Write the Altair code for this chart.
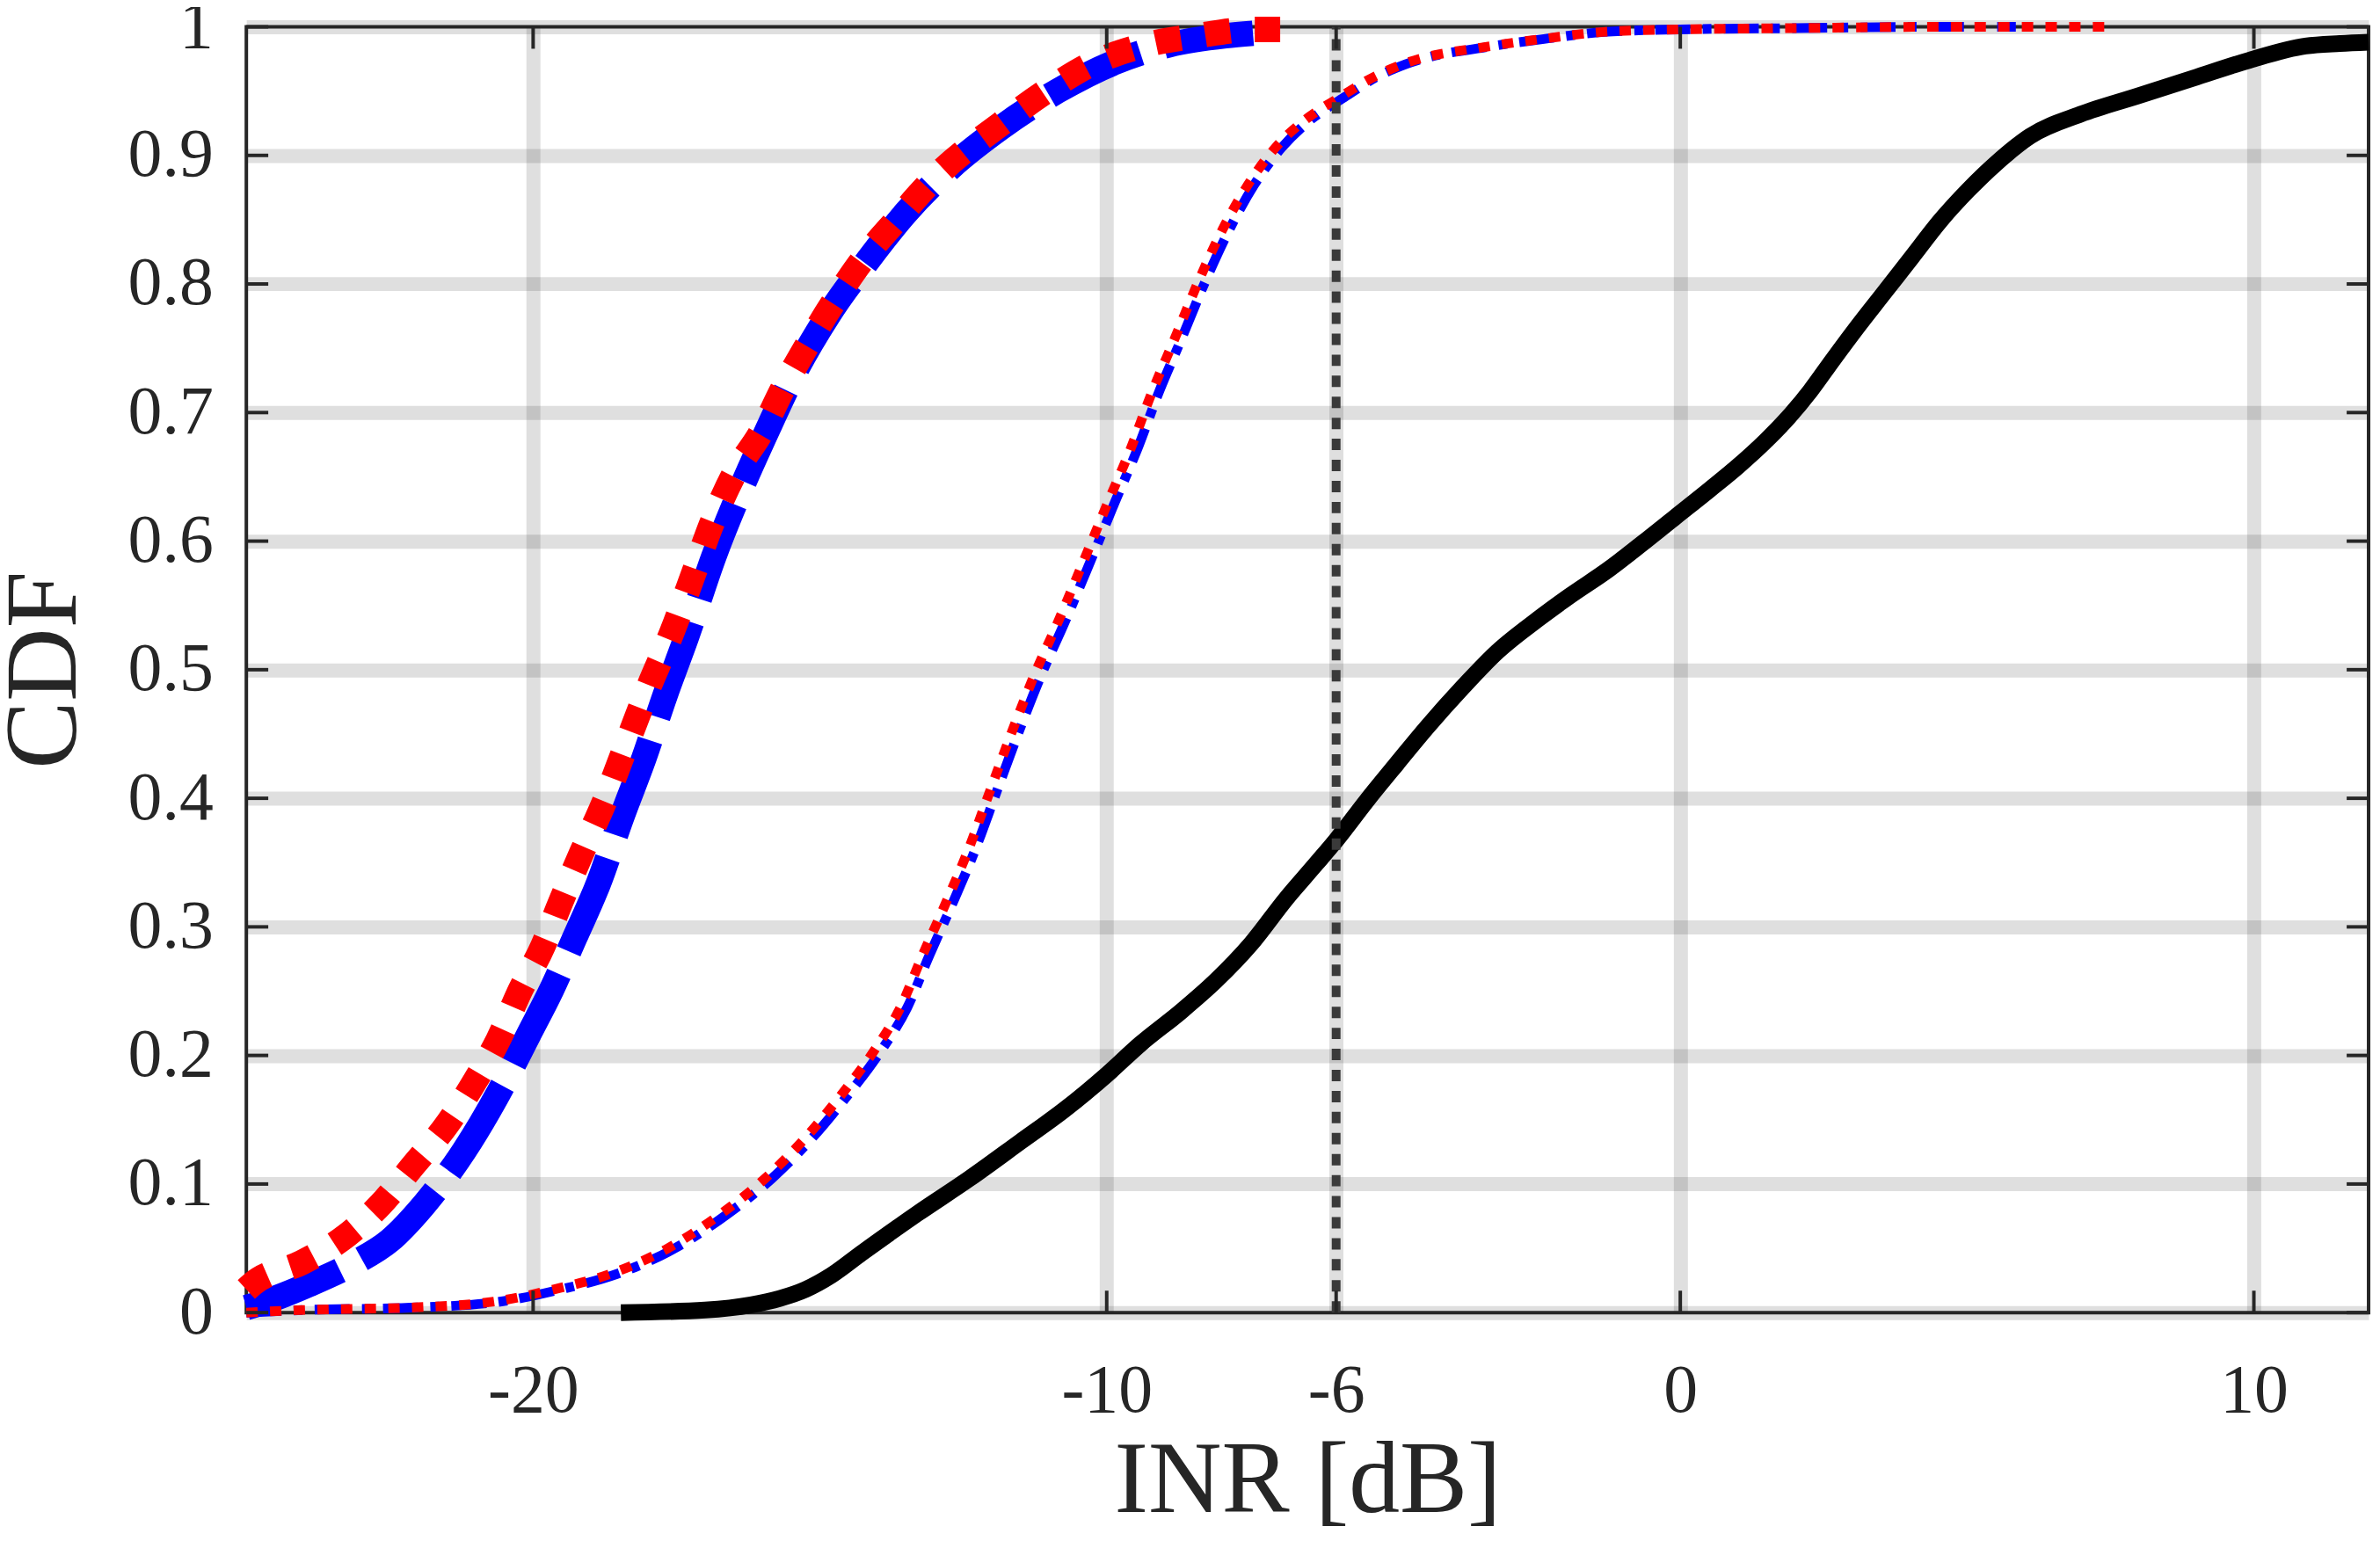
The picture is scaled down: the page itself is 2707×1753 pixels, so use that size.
import altair as alt
import pandas as pd

# ---------------- data ----------------
x_ticks = [-20, -10, -6, 0, 10]
y_ticks = [0, 0.1, 0.2, 0.3, 0.4, 0.5, 0.6, 0.7, 0.8, 0.9, 1]
threshold_db = [-6]

# thick blue dashed (left)
blue_thick_x = [-25, -24.7, -23.9, -23.1, -22.5, -21.9, -21.2, -20.6, -20.08, -19.68,
                -19.27, -18.86, -18.45, -18.07, -17.7, -17.33, -16.85, -16.41, -15.93, -15.44,
                -14.85, -14.17, -13.49, -12.71, -11.83, -10.86, -9.88, -8.91, -7.93, -7.45]
blue_thick_y = [0.004, 0.008, 0.022, 0.039, 0.056, 0.084, 0.126, 0.171, 0.216, 0.251,
                0.292, 0.334, 0.386, 0.431, 0.480, 0.525, 0.588, 0.637, 0.685, 0.731,
                0.776, 0.818, 0.856, 0.891, 0.922, 0.950, 0.972, 0.986, 0.993, 0.995]

# thick red dotted (left)
red_thick_x = [-25, -24.9, -24.03, -23.25, -22.66, -22.08, -21.49, -21.0, -20.61, -20.22,
               -19.83, -19.54, -19.15, -18.76, -18.37, -17.98, -17.59, -17.2, -16.9, -16.51,
               -16.02, -15.63, -15.24, -14.76, -14.27, -13.68, -12.9, -11.83, -11.05, -10.27,
               -9.4, -8.42, -7.45, -6.76]
red_thick_y = [0.018, 0.022, 0.039, 0.060, 0.084, 0.115, 0.147, 0.181, 0.212, 0.251,
               0.285, 0.317, 0.358, 0.397, 0.442, 0.487, 0.528, 0.575, 0.612, 0.651,
               0.685, 0.720, 0.751, 0.786, 0.818, 0.849, 0.887, 0.925, 0.950, 0.971,
               0.985, 0.993, 0.998, 0.998]

# thin red dotted (middle)
red_thin_x = [-25, -24.03, -22.08, -20.61, -19.64, -18.66, -17.69, -16.72, -15.94, -15.25,
              -14.67, -14.08, -13.6, -13.21, -12.82, -12.43, -12.04, -11.65, -11.26, -10.86,
              -10.37, -9.98, -9.59, -9.2, -8.81, -8.42, -8.03, -7.54, -7.06, -6.47,
              -5.98, -5.3, -4.83, -3.31, -2.33, -1.35, 0.0, 2.0, 4.5, 7.57]
red_thin_y = [0.0, 0.002, 0.004, 0.009, 0.018, 0.030, 0.049, 0.077, 0.105, 0.136,
              0.167, 0.202, 0.237, 0.278, 0.317, 0.358, 0.405, 0.452, 0.496, 0.536,
              0.588, 0.630, 0.671, 0.717, 0.758, 0.800, 0.838, 0.877, 0.906, 0.930,
              0.944, 0.962, 0.971, 0.985, 0.991, 0.996, 0.998, 0.999, 1.0, 1.0]

# thin blue dash-dot (middle), sits just right of the red one
blue_thin_x = [-25, -24.0, -22.0, -20.5, -19.52, -18.54, -17.57, -16.6, -15.82, -15.13,
               -14.55, -13.96, -13.48, -13.09, -12.7, -12.31, -11.92, -11.53, -11.14, -10.74,
               -10.25, -9.86, -9.47, -9.08, -8.69, -8.3, -7.91, -7.43, -6.95, -6.38,
               -5.9, -5.25, -4.78, -3.27, -2.3, -1.33, 0.0, 2.0, 4.5, 5.85]
blue_thin_y = [0.0, 0.002, 0.004, 0.009, 0.018, 0.030, 0.049, 0.077, 0.105, 0.136,
               0.167, 0.202, 0.237, 0.278, 0.317, 0.358, 0.405, 0.452, 0.496, 0.536,
               0.588, 0.630, 0.671, 0.717, 0.758, 0.800, 0.838, 0.877, 0.906, 0.930,
               0.944, 0.962, 0.971, 0.985, 0.991, 0.996, 0.998, 0.999, 1.0, 1.0]

# black solid (right)
black_x = [-18.47, -17.0, -16.2, -15.7, -15.25, -14.8, -14.28, -13.3, -12.4, -11.5,
           -10.73, -10.0, -9.41, -8.71, -8.10, -7.48, -6.87, -6.35, -5.99, -5.47,
           -4.94, -4.42, -3.80, -3.19, -2.49, -1.94, -1.25, -0.67, -0.08, 0.51,
           1.0, 1.49, 1.88, 2.27, 2.66, 3.06, 3.55, 4.04, 4.53, 5.02,
           5.51, 6.1, 6.98, 7.96, 8.94, 9.92, 10.9, 11.5, 12.0]
black_y = [0.0, 0.002, 0.006, 0.011, 0.018, 0.029, 0.046, 0.077, 0.104, 0.133,
           0.158, 0.185, 0.209, 0.234, 0.258, 0.287, 0.322, 0.349, 0.368, 0.398,
           0.427, 0.455, 0.486, 0.514, 0.539, 0.557, 0.578, 0.598, 0.619, 0.640,
           0.658, 0.678, 0.696, 0.717, 0.741, 0.765, 0.793, 0.821, 0.849, 0.873,
           0.894, 0.915, 0.932, 0.946, 0.960, 0.974, 0.985, 0.987, 0.988]

# ---------------- chart ----------------
W, H = 2421, 1467
INK = "#262626"
FONT = "Liberation Serif"
TICK_LEN = 25

xscale = alt.Scale(domain=[-25, 12], nice=False, zero=False)
yscale = alt.Scale(domain=[0, 1], nice=False, zero=False)

x_axis = alt.Axis(
    values=x_ticks, title="INR [dB]", labelExpr="'' + datum.value",
    grid=True, gridColor=INK, gridOpacity=0.15, gridWidth=16,
    domain=False, ticks=False, tickSize=0,
    labelFont=FONT, labelFontSize=78, labelColor=INK, labelPadding=113,
    labelBaseline="alphabetic", labelFlush=False, labelOverlap=False,
    titleFont=FONT, titleFontSize=116, titleFontWeight="normal", titleColor=INK,
    titleX=W / 2, titleY=227, titleBaseline="alphabetic", titleAlign="center",
)
y_axis = alt.Axis(
    values=y_ticks, title="CDF", labelExpr="'' + datum.value",
    grid=True, gridColor=INK, gridOpacity=0.15, gridWidth=16,
    domain=False, ticks=False, tickSize=0,
    labelFont=FONT, labelFontSize=78, labelColor=INK, labelPadding=38,
    labelBaseline="middle", labelFlush=False, labelOverlap=False,
    titleFont=FONT, titleFontSize=116, titleFontWeight="normal", titleColor=INK,
    titleX=-230, titleY=H / 2, titleAngle=270, titleBaseline="middle", titleAlign="center",
)

X = lambda f: alt.X(f, type="quantitative", scale=xscale, axis=x_axis)
Y = lambda f: alt.Y(f, type="quantitative", scale=yscale, axis=y_axis)


def line(xs, ys, color, width, dash=None):
    kw = dict(color=color, strokeWidth=width, interpolate="monotone", strokeJoin="round")
    if dash is not None:
        kw["strokeDash"] = dash
    return alt.Chart(pd.DataFrame({"x": xs, "y": ys})).mark_line(**kw).encode(
        x=X("x"), y=Y("y"))


black = line(black_x, black_y, "#000000", 19)
blue_thick = line(blue_thick_x, blue_thick_y, "#0000ff", 29, dash=[115, 28])
red_thick = line(red_thick_x, red_thick_y, "#ff0000", 29, dash=[29, 28])
blue_thin = line(blue_thin_x, blue_thin_y, "#0000ff", 11, dash=[40, 14, 10, 14])
red_thin = line(red_thin_x, red_thin_y, "#ff0000", 11, dash=[13, 14])

vline = alt.Chart(pd.DataFrame({"x": threshold_db, "y": [0], "y1": [1]})).mark_rule(
    color="#3a3a3a", strokeWidth=10, strokeDash=[13, 11]
).encode(x=X("x"), y=Y("y"), y2="y1:Q")

xt = pd.DataFrame({"x": x_ticks})
yt = pd.DataFrame({"y": y_ticks})
tick_style = dict(color=INK, strokeWidth=4)
ticks_bottom = alt.Chart(xt).mark_rule(**tick_style).encode(
    x=X("x"), y=alt.value(H), y2=alt.value(H - TICK_LEN))
ticks_top = alt.Chart(xt).mark_rule(**tick_style).encode(
    x=X("x"), y=alt.value(0), y2=alt.value(TICK_LEN))
ticks_left = alt.Chart(yt).mark_rule(**tick_style).encode(
    y=Y("y"), x=alt.value(0), x2=alt.value(TICK_LEN))
ticks_right = alt.Chart(yt).mark_rule(**tick_style).encode(
    y=Y("y"), x=alt.value(W - TICK_LEN), x2=alt.value(W))

chart = alt.layer(
    black, blue_thick, red_thick, blue_thin, red_thin, vline,
    ticks_bottom, ticks_top, ticks_left, ticks_right,
).properties(
    width=W, height=H,
    autosize=alt.AutoSizeParams(type="none"),
    padding={"left": 273, "top": 20, "right": 5, "bottom": 250},
    background="white",
).configure_view(stroke=INK, strokeWidth=4)

chart.save("out.html", embed_options={"renderer": "svg", "actions": False})
